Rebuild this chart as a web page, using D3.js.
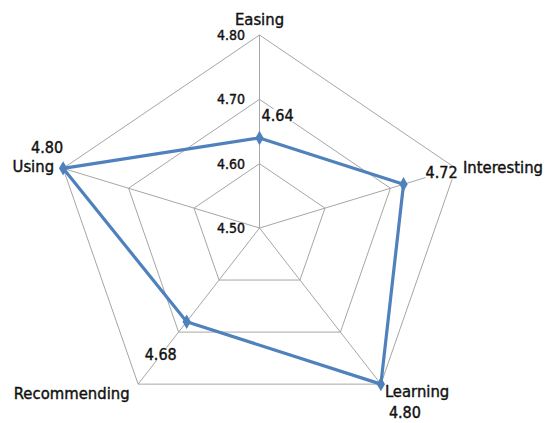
<!DOCTYPE html>
<html>
<head>
<meta charset="utf-8">
<script src="https://cdn.jsdelivr.net/npm/d3@7"></script>
<style>
  body { margin: 0; background: #fff; }
  text { font-family: "DejaVu Sans Condensed", "DejaVu Sans", sans-serif; fill: #111; stroke: #111; stroke-width: 0.4px; }
</style>
</head>
<body>
<svg></svg>
<script>
// chart size
const width = 556,
  height = 423;

// data
const categories = ["Easing", "Interesting", "Learning", "Recommending", "Using"];
const values = [4.64, 4.72, 4.80, 4.68, 4.80];
const tickValues = [4.50, 4.60, 4.70, 4.80];

// centre and radii (picture is a bit wider than tall)
const cx = 259.5, cy = 228;
const rx = 206.5, ry = 193;

const svg = d3.select("svg")
  .attr("width", width)
  .attr("height", height);

const r = d3.scaleLinear().domain([4.5, 4.8]).range([0, 1]);
const angle = d3.scaleLinear().domain([0, categories.length]).range([0, 2 * Math.PI]);

const pos = (i, v) => {
  const a = angle(i);
  return [cx + Math.sin(a) * r(v) * rx, cy - Math.cos(a) * r(v) * ry];
};

// grid rings
const grid = svg.append("g")
  .attr("fill", "none")
  .attr("stroke", "#a6a6a6")
  .attr("stroke-width", 1);

tickValues.slice(1).forEach(t => {
  grid.append("polygon")
    .attr("points", categories.map((c, i) => pos(i, t).join(",")).join(" "));
});

// spokes
categories.forEach((c, i) => {
  const p = pos(i, 4.8);
  grid.append("line")
    .attr("x1", cx).attr("y1", cy)
    .attr("x2", p[0]).attr("y2", p[1]);
});

// tick labels on the first axis
svg.append("g").selectAll("text")
  .data(tickValues)
  .join("text")
  .attr("x", d => pos(0, d)[0] - 14.5)
  .attr("y", d => pos(0, d)[1] + 5)
  .attr("text-anchor", "end")
  .attr("font-size", 14)
  .text(d => d.toFixed(2));

// category labels, offsets from the outer vertex
const catOffset = [[0, -10, "middle"], [7, 4.5, "start"], [4, 13, "start"], [-8.5, 15, "end"], [-9, 4, "end"]];
svg.append("g").selectAll("text")
  .data(categories)
  .join("text")
  .attr("x", (d, i) => pos(i, 4.8)[0] + catOffset[i][0])
  .attr("y", (d, i) => pos(i, 4.8)[1] + catOffset[i][1])
  .attr("text-anchor", (d, i) => catOffset[i][2])
  .attr("font-size", 16.5)
  .text(d => d);

// series line
const line = d3.line()
  .x((d, i) => pos(i, d)[0])
  .y((d, i) => pos(i, d)[1])
  .curve(d3.curveLinearClosed);

svg.append("path")
  .datum(values)
  .attr("fill", "none")
  .attr("stroke", "#4f81bd")
  .attr("stroke-width", 3.2)
  .attr("stroke-linejoin", "round")
  .attr("d", line);

svg.append("g").selectAll("path")
  .data(values)
  .join("path")
  .attr("transform", (d, i) => `translate(${pos(i, d)})`)
  .attr("d", d3.symbol(d3.symbolDiamond, 60))
  .attr("fill", "#4f81bd");

// data labels, offsets from the point
const valOffset = [[2, -17], [22, -6], [8, 34], [-42, 38], [-32, -15]];
const labels = svg.append("g").selectAll("g")
  .data(values)
  .join("g");

labels.append("rect").attr("fill", "#fff");
labels.append("text")
  .attr("x", (d, i) => pos(i, d)[0] + valOffset[i][0])
  .attr("y", (d, i) => pos(i, d)[1] + valOffset[i][1])
  .attr("font-size", 16)
  .text(d => d.toFixed(2));

labels.each(function () {
  const b = d3.select(this).select("text").node().getBBox();
  d3.select(this).select("rect")
    .attr("x", b.x).attr("y", b.y + 3)
    .attr("width", b.width).attr("height", b.height - 6);
});
</script>
</body>
</html>
